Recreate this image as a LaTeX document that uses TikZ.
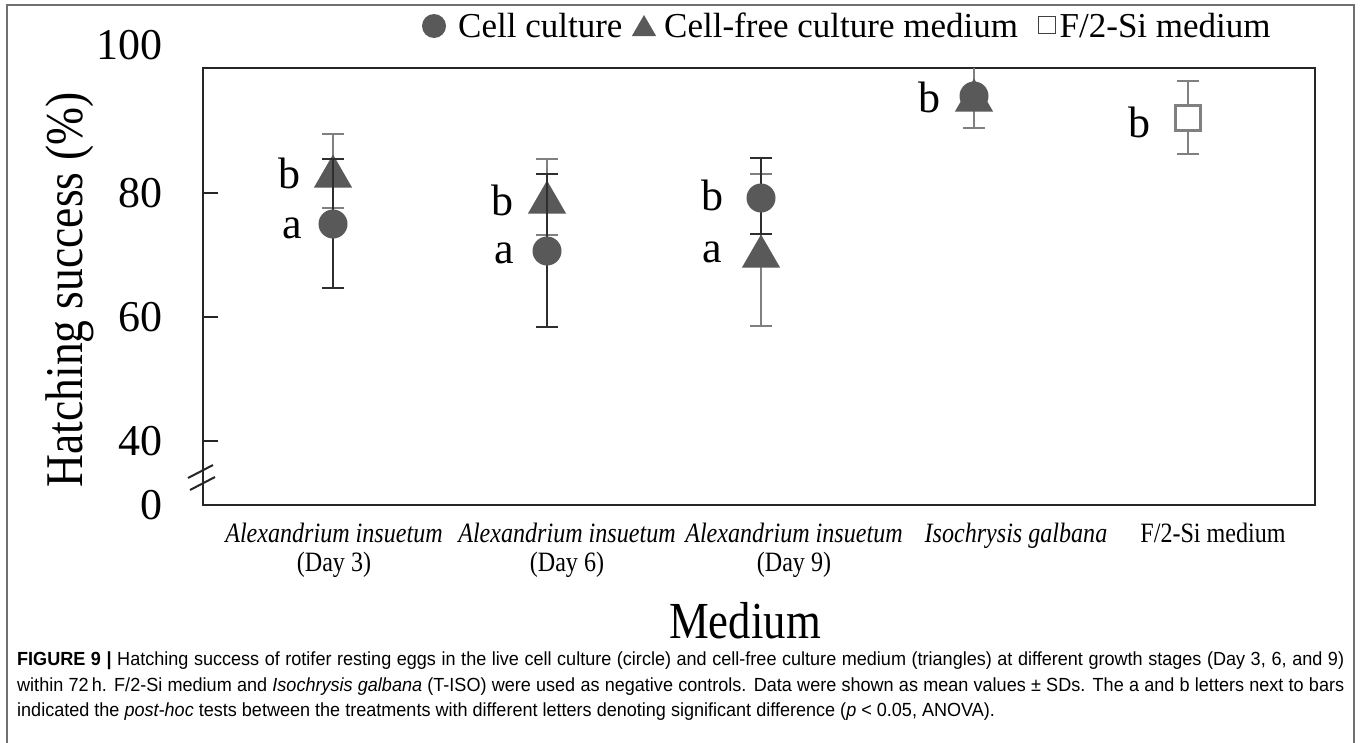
\documentclass[tikz,border=0pt]{standalone}
\usepackage{fontspec}
\setmainfont{Liberation Serif}
\newfontfamily\capfont[FakeStretch=0.95]{Liberation Sans}
\newfontfamily\condserif[FakeStretch=0.86]{Liberation Serif}
\usetikzlibrary{shapes.geometric}
\definecolor{mk}{HTML}{595959}
\definecolor{errdark}{HTML}{2E2E2E}
\definecolor{errlight}{HTML}{808080}
\definecolor{framegray}{HTML}{707070}
\newcommand\ebar[5]{% style, x, ytop, ybottom, name prefix
  \coordinate (#5t) at (#2,#3);
  \coordinate (#5b) at (#2,#4);
  \draw[#1] (#5t) -- (#5b);
  \draw[#1] ([xshift=-11pt]#5t) -- ([xshift=11pt]#5t);
  \draw[#1] ([xshift=-11pt]#5b) -- ([xshift=11pt]#5b);}
\begin{document}
\begin{tikzpicture}[x=1pt,y=-1pt,
  circmk/.style={circle,fill=mk,inner sep=0pt,minimum size=29pt},
  trimk/.style={regular polygon,regular polygon sides=3,fill=mk,inner sep=0pt,minimum size=44pt},
  sqmk/.style={rectangle,draw=errlight,line width=2.5pt,fill=white,minimum size=25pt,inner sep=0pt},
  errd/.style={draw=errdark,line width=2.6pt},
  errl/.style={draw=errlight,line width=2.2pt},
  ticklab/.style={anchor=east,font=\fontsize{44}{48}\selectfont,inner sep=0pt},
  letter/.style={font=\fontsize{44}{48}\selectfont,inner sep=0pt},
  catlab/.style={anchor=base,font=\condserif\fontsize{28}{30}\selectfont,inner sep=0pt},
  lgtext/.style={anchor=base west,font=\fontsize{35}{38}\selectfont,inner sep=0pt},
  captext/.style={anchor=base west,font=\capfont\fontsize{19}{22}\selectfont,inner sep=0pt}
]
\useasboundingbox (0,0) rectangle (1360,742);
\fill[white] (0,0) rectangle (1360,742);
% outer frame
\draw[framegray,line width=1.5pt] (7,745) -- (7,5) -- (1354,5) -- (1354,745);

% legend
\node[circle,fill=mk,inner sep=0pt,minimum size=24pt] (lgc) at (434,26) {};
\node[lgtext] (lg1) at (458,37) {Cell culture};
\node[regular polygon,regular polygon sides=3,fill=mk,inner sep=0pt,minimum size=28pt] (lgt) at (644,29) {};
\node[lgtext] (lg2) at (664,37) {Cell-free culture medium};
\node[rectangle,draw=black!75,line width=1.3pt,fill=white,minimum size=17pt,inner sep=0pt,anchor=west] (lgs) at ([xshift=20pt,yshift=12pt]lg2.base east) {};
\node[lgtext] (lg3) at ([xshift=3pt]lgs.east |- lg2.base) {F/2-Si medium};

% plot frame
\draw[black!85,line width=2.2pt] (203,68) rectangle (1315,505);
\foreach \yy in {193,317,441} \draw[black!85,line width=2pt] (203,\yy) -- (218,\yy);
\draw[black!85,line width=2pt] (188,478) -- (213,465);
\draw[black!85,line width=2pt] (190,490) -- (215,477);

% tick labels
\node[ticklab] (t100) at (163,45) {100};
\node[ticklab] (t80) at (163,193) {80};
\node[ticklab] (t60) at (163,317) {60};
\node[ticklab] (t40) at (163,441) {40};
\node[ticklab] (t0) at (163,505) {0};

% axis titles
\node[rotate=90,anchor=base,inner sep=0pt,font=\condserif\fontsize{53}{56}\selectfont] (ylab) at (82,290) {Hatching success (\%)};
\node[anchor=base,inner sep=0pt,font=\condserif\fontsize{52}{56}\selectfont] (xlab) at (745,638) {Medium};

% category labels
\node[catlab] (c1a) at (334,542) {\itshape Alexandrium insuetum};
\node[catlab] (c1b) at (334,571) {(Day 3)};
\node[catlab] (c2a) at (567,542) {\itshape Alexandrium insuetum};
\node[catlab] (c2b) at (567,571) {(Day 6)};
\node[catlab] (c3a) at (794,542) {\itshape Alexandrium insuetum};
\node[catlab] (c3b) at (794,571) {(Day 9)};
\node[catlab] (c4a) at (1016,542) {\itshape Isochrysis galbana};
\node[catlab] (c5a) at (1213,542) {F/2-Si medium};

% group 1 (Day 3)
\ebar{errl}{333}{134}{208}{e1t}
\node[trimk] (g1t) at (333,176.5) {};
\ebar{errd}{333}{159}{288}{e1c}
\node[circmk] (g1c) at (333,224) {};
\node[letter] (l1b) at (289,173) {b};
\node[letter] (l1a) at (292,228) {a};

% group 2 (Day 6)
\ebar{errl}{547}{159}{235}{e2t}
\node[trimk] (g2t) at (547,202.5) {};
\ebar{errd}{547}{174}{327}{e2c}
\node[circmk] (g2c) at (547,251) {};
\node[letter] (l2b) at (502,200) {b};
\node[letter] (l2a) at (504,253) {a};

% group 3 (Day 9)
\ebar{errl}{761}{174}{326}{e3t}
\node[trimk] (g3t) at (761,256.5) {};
\ebar{errd}{761}{158}{234}{e3c}
\node[circmk] (g3c) at (761,198) {};
\node[letter] (l3b) at (712,195) {b};
\node[letter] (l3a) at (712,252) {a};

% group 4 (Isochrysis galbana)
\coordinate (e4t) at (974,68);
\coordinate (e4b) at (974,128);
\draw[errl] (e4t) -- (e4b);
\draw[errl] ([xshift=-11pt]e4b) -- ([xshift=11pt]e4b);
\node[circmk] (g4c) at (974,96) {};
\node[trimk] (g4t) at (974,100.5) {};
\node[letter] (l4b) at (929,97) {b};

% group 5 (F/2-Si medium)
\ebar{errl}{1188}{81}{154}{e5}
\node[sqmk] (g5s) at (1188,118) {};
\node[letter] (l5b) at (1139,122) {b};

% caption
\node[captext] (cap1) at (17,665) {\makebox[1327pt][s]{\bfseries FIGURE 9 | \mdseries Hatching success of rotifer resting eggs in the live cell culture (circle) and cell-free culture medium (triangles) at different growth stages (Day 3, 6, and 9)}};
\node[captext] (cap2) at (17,691) {\makebox[1327pt][s]{within 72\,h. F/2-Si medium and \itshape Isochrysis galbana \upshape (T-ISO) were used as negative controls. Data were shown as mean values ± SDs. The a and b letters next to bars}};
\node[captext] (cap3) at (17,716) {indicated the \itshape post-hoc \upshape tests between the treatments with different letters denoting significant difference (\itshape p \upshape < 0.05, ANOVA).};
\end{tikzpicture}
\end{document}
